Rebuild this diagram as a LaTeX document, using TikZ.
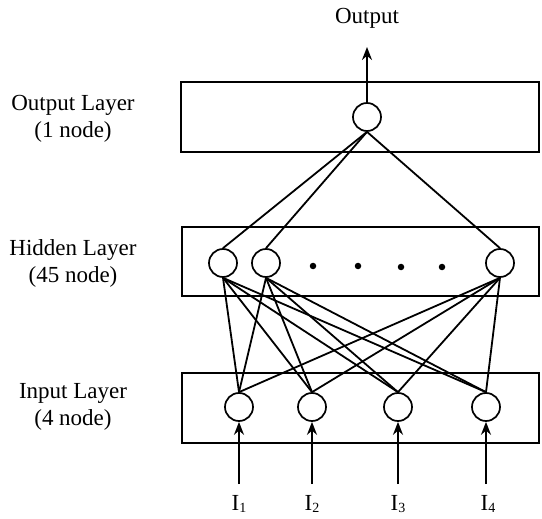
\documentclass[tikz,border=0pt]{standalone}
\usepackage{fontspec}
\setmainfont{Liberation Serif}
\usetikzlibrary{arrows.meta}
\begin{document}
\begin{tikzpicture}[x=1pt,y=-1pt,
  neuron/.style={draw,circle,line width=1.7pt,minimum size=28pt,inner sep=0pt},
  layerbox/.style={draw,line width=1.6pt},
  conn/.style={line width=1.8pt},
  inarrow/.style={line width=1.8pt,-{Stealth[length=13pt,width=10pt]}},
  lbl/.style={font=\fontsize{23}{27}\selectfont,align=center},
  dotn/.style={circle,fill,inner sep=0pt,minimum size=6.5pt}]
\useasboundingbox (0,0) rectangle (542,519);
% layer boxes
\draw[layerbox] (181,82) rectangle (539,152);
\draw[layerbox] (182,227) rectangle (539,296);
\draw[layerbox] (182,373) rectangle (539,443);
% layer labels
\node[lbl] (lo) at (73,119) {Output Layer\\(1 node)};
\node[lbl] (lh) at (73,263) {Hidden Layer\\(45 node)};
\node[lbl] (li) at (73,407) {Input Layer\\(4 node)};
% neurons
\node[neuron] (o) at (367,117) {};
\node[neuron] (h1) at (223,263) {};
\node[neuron] (h2) at (266,263) {};
\node[neuron] (hn) at (500,263) {};
\node[neuron] (i1) at (239,407) {};
\node[neuron] (i2) at (312,407) {};
\node[neuron] (i3) at (398,407) {};
\node[neuron] (i4) at (486,407) {};
% dots
\node[dotn] (d1) at (313,266) {};
\node[dotn] (d2) at (358,266) {};
\node[dotn] (d3) at (401,267) {};
\node[dotn] (d4) at (442,267) {};
% output
\node[lbl] (outtxt) at (367,18) {Output};
\draw[inarrow] (o.north) -- (367,47) coordinate (otip);
% hidden to output
\foreach \h in {h1,h2,hn} \draw[conn] (\h.north) -- (o.south);
% input to hidden
\foreach \h in {h1,h2,hn} \foreach \i in {i1,i2,i3,i4} \draw[conn] (\i.north) -- (\h.south);
% inputs
\node[lbl] (t1) at (239,504) {I\raisebox{-2pt}{\fontsize{14}{14}\selectfont 1}};
\node[lbl] (t2) at (312,504) {I\raisebox{-2pt}{\fontsize{14}{14}\selectfont 2}};
\node[lbl] (t3) at (398,504) {I\raisebox{-2pt}{\fontsize{14}{14}\selectfont 3}};
\node[lbl] (t4) at (488,504) {I\raisebox{-2pt}{\fontsize{14}{14}\selectfont 4}};
\coordinate (b1) at (239,484);
\coordinate (b2) at (312,484);
\coordinate (b3) at (398,484);
\coordinate (b4) at (486,484);
\foreach \k in {1,2,3,4} \draw[inarrow] (b\k) -- (i\k.south);
\end{tikzpicture}
\end{document}
